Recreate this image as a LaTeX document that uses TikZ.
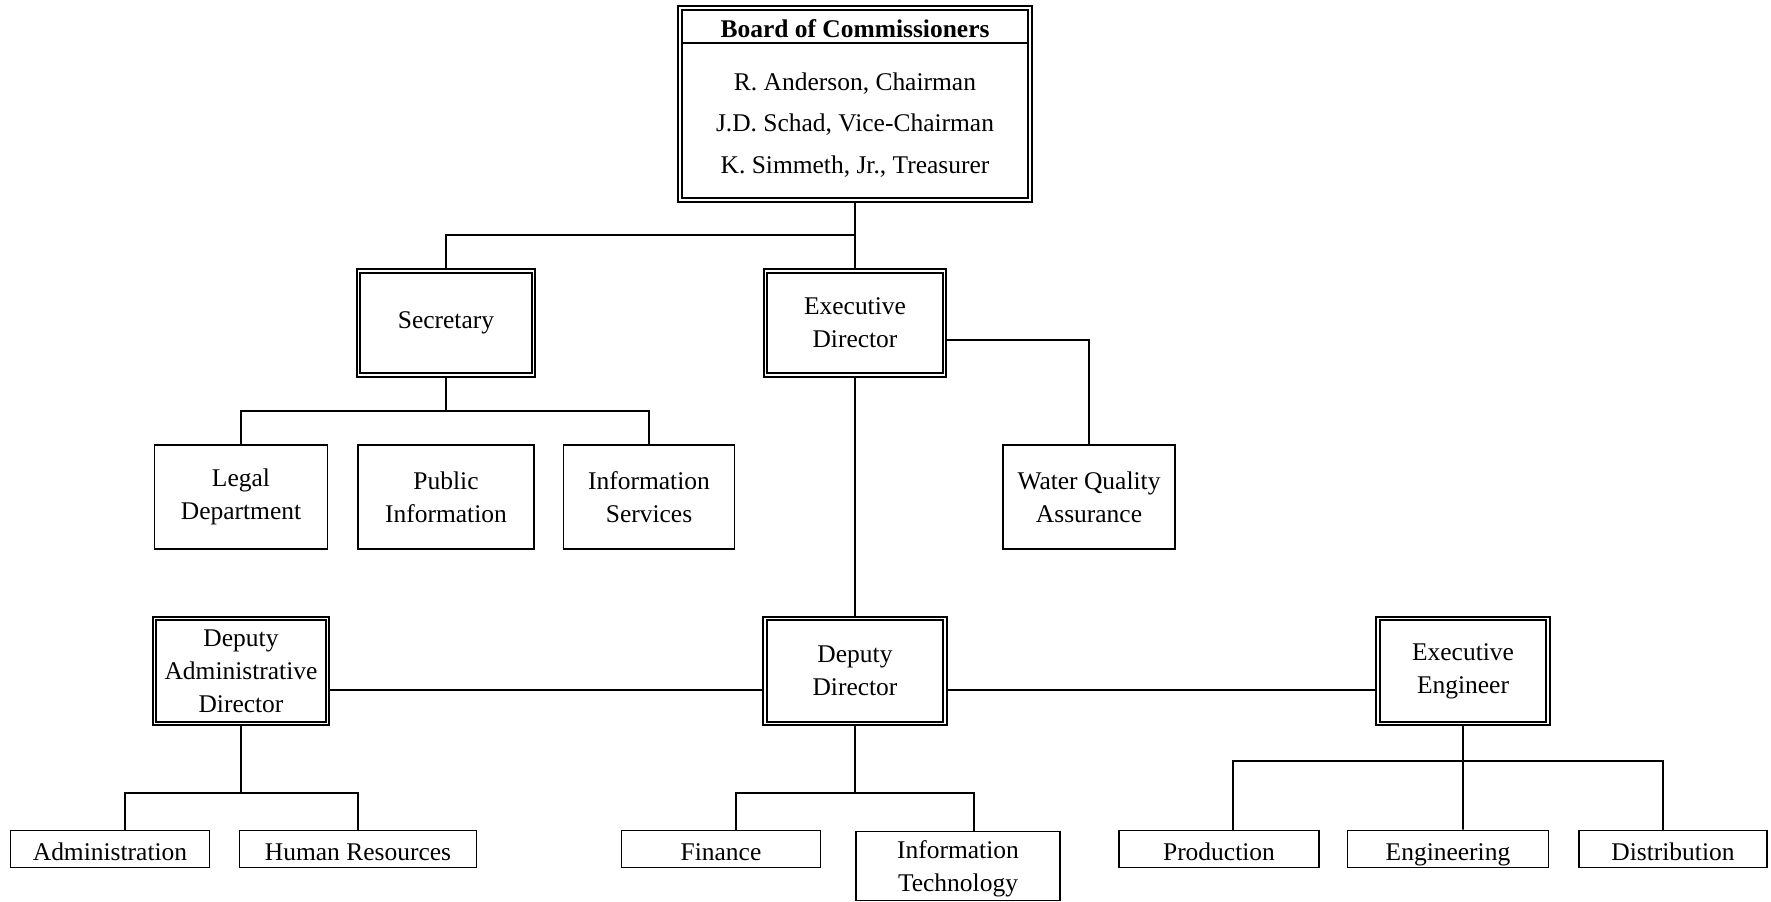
\documentclass[tikz,border=0pt]{standalone}
\usepackage{fontspec}
\setmainfont{Liberation Serif}
\begin{document}
\begin{tikzpicture}[x=0.2mm,y=-0.2mm]
	\tikzstyle{office}=[draw,double,line width=1.1pt,double distance=0.9pt,align=center,inner sep=0pt,font=\fontsize{14.5}{18.7}\selectfont]
	\tikzstyle{unit}=[draw,line width=1.1pt,align=center,inner sep=0pt,font=\fontsize{14.5}{18.7}\selectfont]
	\tikzstyle{leaf}=[unit,minimum height=7.4mm,text height=13pt,text depth=0pt]
	\tikzstyle{edge}=[draw,line width=1.1pt]
	\useasboundingbox (0,0) rectangle (1771,902);
	\begin{scope}
		% board
		\node [office,minimum width=70mm,minimum height=38.4mm] (board) at (855,104) {};
		\node [font=\fontsize{14.5}{18.7}\selectfont\bfseries] (title) at (855,29) {Board of Commissioners};
		\node [align=center,font=\fontsize{14.5}{23.8}\selectfont] (members) at (855,125) {R. Anderson, Chairman\\J.D. Schad, Vice-Chairman\\K. Simmeth, Jr., Treasurer};
		\draw [line width=1.6pt] (683,43) -- (1027,43);

		% second row
		\node [office,minimum width=35mm,minimum height=20.8mm] (sec) at (446,323) {Secretary};
		\node [office,minimum width=35.8mm,minimum height=20.8mm] (execdir) at (855,323) {Executive\\Director};

		% third row
		\node [unit,minimum width=34.6mm,minimum height=20.8mm] (legal) at (241,497) {Legal\\Department};
		\node [unit,minimum width=35.2mm,minimum height=20.8mm] (pubinfo) at (446,497) {Public\\Information};
		\node [unit,minimum width=34.2mm,minimum height=20.8mm] (infoserv) at (649,497) {Information\\Services};
		\node [unit,minimum width=34.4mm,minimum height=20.8mm] (wqa) at (1089,497) {Water Quality\\Assurance};

		% deputies
		\node [office,minimum width=34.6mm,minimum height=21mm] (depadmin) at (241,671) {Deputy\\Administrative\\Director};
		\node [office,minimum width=36mm,minimum height=21mm] (depdir) at (855,671) {Deputy\\Director};
		\node [office,minimum width=34mm,minimum height=21mm] (execeng) at (1463,671) {Executive\\Engineer};

		% bottom row
		\node [leaf,minimum width=39.8mm] (admin) at (110,849) {Administration};
		\node [leaf,minimum width=47.4mm] (hr) at (358,849) {Human Resources};
		\node [leaf,minimum width=39.8mm] (finance) at (721,849) {Finance};
		\node [unit,minimum width=40.8mm,minimum height=13.8mm,text depth=0pt] (it) at (958,866) {Information\\Technology};
		\node [leaf,minimum width=40mm] (production) at (1219,849) {Production};
		\node [leaf,minimum width=40.2mm] (engineering) at (1448,849) {Engineering};
		\node [leaf,minimum width=37.6mm] (distribution) at (1673,849) {Distribution};

		\coordinate (j1) at (855,235);
		\coordinate (j2) at (446,411);
		\coordinate (j3) at (241,793);
		\coordinate (j4) at (855,793);
		\coordinate (j5) at (1463,761);

		\path[edge] (board) -- (execdir);
		\path[edge] (sec.north) |- (j1);
		\path[edge] (sec) -- (j2);
		\path[edge] (legal.north) |- (j2) -| (infoserv.north);
		\path[edge] ([yshift=-3.4mm]execdir.east) -| (wqa.north);
		\path[edge] (execdir) -- (depdir);
		\path[edge] ([yshift=-3.8mm]depadmin.east) -- ([yshift=-3.8mm]depdir.west);
		\path[edge] ([yshift=-3.8mm]depdir.east) -- ([yshift=-3.8mm]execeng.west);
		\path[edge] (depadmin) -- (j3);
		\path[edge] ([xshift=3mm]admin.north) |- (j3) -| (hr.north);
		\path[edge] (depdir) -- (j4);
		\path[edge] ([xshift=3mm]finance.north) |- (j4) -| ([xshift=3.2mm]it.north);
		\path[edge] (execeng) -- (j5) -- ([xshift=3mm]engineering.north);
		\path[edge] ([xshift=2.8mm]production.north) |- (j5) -| ([xshift=-2mm]distribution.north);
	\end{scope}
\end{tikzpicture}
\end{document}
